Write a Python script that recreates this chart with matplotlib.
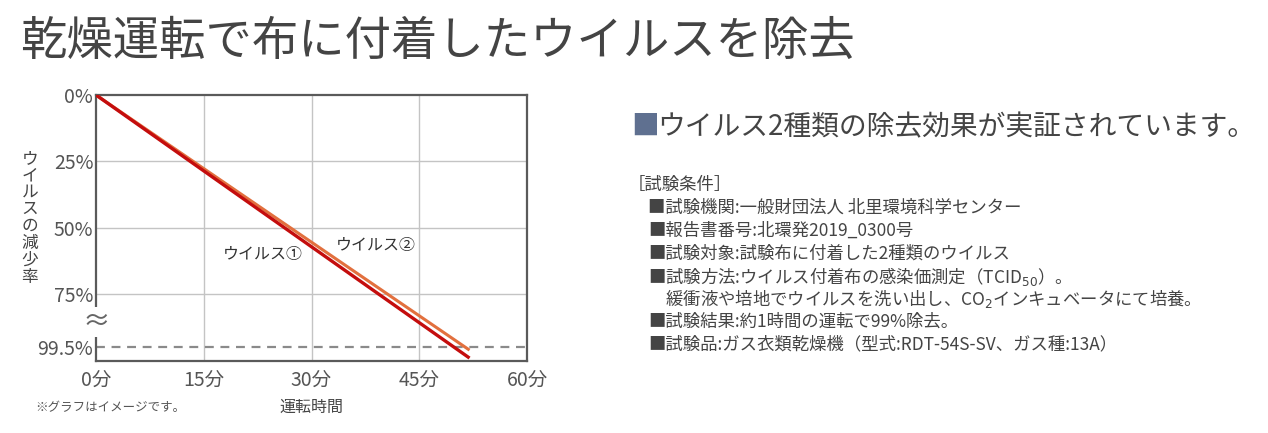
import matplotlib.pyplot as plt

plt.rcParams['font.family'] = ['Noto Sans CJK JP', 'DejaVu Sans']

# time in minutes, reduction on chart scale (75% -> 75, 99.5% drawn at 95)
minutes = [0, 52]
virus1 = [0, 99.2]
virus2 = [0, 96.2]

y_ticks = [0, 25, 50, 75, 95]
y_labels = ['0%', '25%', '50%', '75%', '99.5%']
x_ticks = [0, 15, 30, 45, 60]
x_labels = ['0分', '15分', '30分', '45分', '60分']

title = '乾燥運転で布に付着したウイルスを除去'
heading = 'ウイルス2種類の除去効果が実証されています。'
conditions = [
    '［試験条件］',
    '■試験機関:一般財団法人 北里環境科学センター',
    '■報告書番号:北環発2019_0300号',
    '■試験対象:試験布に付着した2種類のウイルス',
    '■試験方法:ウイルス付着布の感染価測定（TCID$_{50}$）。',
    '　緩衝液や培地でウイルスを洗い出し、CO$_2$インキュベータにて培養。',
    '■試験結果:約1時間の運転で99%除去。',
    '■試験品:ガス衣類乾燥機（型式:RDT-54S-SV、ガス種:13A）',
]

fig = plt.figure(figsize=(12.68, 4.33), dpi=100)
ax = fig.add_axes([96 / 1268, 72 / 433, 431 / 1268, 266 / 433])

for y in [25, 50, 75]:
    ax.axhline(y, color='#c4c4c4', lw=1, zorder=1)
for x in [15, 30, 45]:
    ax.axvline(x, color='#c4c4c4', lw=1, zorder=1)
ax.axhline(95, color='#8a8a8a', lw=1.6, ls=(0, (4, 3)), zorder=1)

ax.plot(minutes, virus2, color='#e2703e', lw=2.2, zorder=3, solid_capstyle='butt')
ax.plot(minutes, virus1, color='#c40d0d', lw=2.4, zorder=4, solid_capstyle='butt')

ax.set_xlim(0, 60)
ax.set_ylim(100.3, 0)
ax.set_xticks(x_ticks)
ax.set_xticklabels(x_labels)
ax.set_yticks(y_ticks)
ax.set_yticklabels(y_labels)
ax.tick_params(length=0, labelsize=14, labelcolor='#555555')
ax.tick_params(axis='y', pad=2)
ax.tick_params(axis='x', pad=6)
for s in ax.spines.values():
    s.set_color('#5a5a5a')
    s.set_linewidth(1.6)

ax.text(17.6, 60.3, 'ウイルス①', fontsize=11.5, color='#333333', va='center')
ax.text(33.4, 56.6, 'ウイルス②', fontsize=11.5, color='#333333', va='center')

# axis break mark
ax.text(0, 85.5, '≈', fontsize=20, color='#666666', ha='center', va='center',
        clip_on=False, zorder=5,
        bbox=dict(boxstyle='square,pad=0', fc='white', ec='none'))

ax.set_xlabel('運転時間', fontsize=11.5, color='#444444', labelpad=6)
fig.text(30 / 1268, 1 - 218 / 433, '\n'.join('ウイルスの減少率'), fontsize=12,
         color='#444444', ha='center', va='center', linespacing=1.0)
fig.text(35 / 1268, 1 - 407 / 433, '※グラフはイメージです。', fontsize=9,
         color='#555555', va='center')

fig.text(20 / 1268, 1 - 42 / 433, title, fontsize=33.4, color='#444444', va='center')

fig.text(631 / 1268, 1 - 127 / 433, '■', fontsize=20, color='#5f7090', va='center')
fig.text(657 / 1268, 1 - 127 / 433, heading, fontsize=20, color='#444444', va='center')

for i, line in enumerate(conditions):
    x0 = 628 if i == 0 else 648
    fig.text(x0 / 1268, 1 - (185 + i * 22.8) / 433, line, fontsize=12.5,
             color='#444444', va='center')

fig.savefig('out.png', dpi=100, facecolor='white')
